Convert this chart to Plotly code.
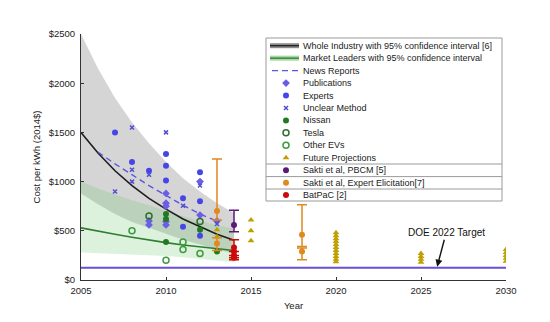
import plotly.graph_objects as go

# ---------------- data ----------------
band_years = [2005, 2006, 2007, 2008, 2009, 2010, 2011, 2012, 2013, 2014]
industry = [1500, 1290, 1110, 960, 830, 720, 620, 540, 465, 405]
industry_hi = [2500, 2150, 1850, 1600, 1390, 1200, 1035, 900, 780, 680]
industry_lo = [880, 770, 670, 590, 530, 470, 410, 360, 310, 270]
leaders = [530, 495, 465, 435, 405, 380, 355, 335, 318, 300]
leaders_hi = [1000, 930, 870, 810, 760, 700, 650, 600, 560, 520]
leaders_lo = [280, 273, 266, 259, 252, 245, 230, 215, 198, 180]

news_years = [2006, 2007, 2008, 2009, 2010, 2011, 2012, 2013]
news = [1300, 1180, 1070, 960, 860, 760, 670, 600]

pub_x = [2009, 2009, 2010, 2010, 2010, 2010, 2010, 2012, 2012, 2013]
pub_y = [600, 560, 880, 780, 750, 595, 560, 1000, 660, 600]
exp_x = [2007, 2008, 2009, 2010, 2010, 2010, 2011, 2011, 2012, 2012, 2012]
exp_y = [1500, 1200, 1110, 1280, 1160, 1010, 830, 540, 1095, 800, 450]
unc_x = [2007, 2008, 2008, 2008, 2009, 2010, 2011, 2012, 2013]
unc_y = [900, 1550, 1120, 1000, 1070, 1500, 755, 960, 570]

nissan_x = [2010, 2010, 2010, 2012, 2013]
nissan_y = [670, 620, 385, 510, 290]
tesla_x = [2009, 2012]
tesla_y = [650, 595]
other_x = [2008, 2010, 2011, 2011, 2012]
other_y = [500, 200, 385, 310, 270]

future_x = [2013, 2013,
            2015, 2015, 2015,
            2020, 2020, 2020, 2020, 2020, 2020, 2020, 2020, 2020, 2020, 2020,
            2025, 2025, 2025, 2025,
            2030, 2030, 2030, 2030, 2030]
future_y = [510, 440,
            610, 500, 400,
            480, 450, 420, 390, 360, 330, 300, 270, 240, 210, 185,
            270, 240, 210, 180,
            310, 280, 250, 220, 190]

elic_x = [2013, 2013, 2018, 2018]
elic_y = [700, 370, 460, 290]
elic_plus = [530, 60, 305, 35]
elic_minus = [90, 70, 120, 85]

pbcm_x = [2014]
pbcm_y = [560]
pbcm_plus = [150]
pbcm_minus = [70]

batpac_x = [2014, 2014, 2014, 2014]
batpac_y = [330, 290, 250, 225]
batpac_plus = [78, 0, 0, 0]
batpac_minus = [125, 0, 0, 0]

doe_years = [2005, 2030]
doe_target = [125, 125]

x_ticks = [2005, 2010, 2015, 2020, 2025, 2030]
y_ticks = [0, 500, 1000, 1500, 2000, 2500]
y_tick_text = ["$0", "$500", "$1000", "$1500", "$2000", "$2500"]

legend_labels = [
    "Whole Industry with 95% confidence interval [6]",
    "Market Leaders with 95% confidence interval",
    "News Reports",
    "Publications",
    "Experts",
    "Unclear Method",
    "Nissan",
    "Tesla",
    "Other EVs",
    "Future Projections",
    "Sakti et al, PBCM [5]",
    "Sakti et al, Expert Elicitation[7]",
    "BatPaC [2]",
]

# ---------------- styles ----------------
GRAY_FILL = "rgba(150,150,150,0.40)"
GREEN_FILL = "rgba(100,195,100,0.22)"
C_BLACK = "#1e1e1e"
C_GREEN = "#2f7d2f"
C_NEWS = "#5b55dd"
C_PUB = "#6a5ee6"
C_EXP = "#4646e8"
C_UNC = "#5050cc"
C_NISSAN = "#217a21"
C_TESLA = "#2e6e2e"
C_OTHER = "#3f9a3f"
C_FUT = "#bfa000"
C_PBCM = "#5c1a78"
C_ELIC = "#e0891f"
C_BAT = "#cc0a0a"
C_DOE = "#6a4fd6"

fig = go.Figure()

# confidence bands
fig.add_trace(go.Scatter(x=band_years, y=industry_lo, mode="lines", line=dict(width=0),
                         hoverinfo="skip", showlegend=False))
fig.add_trace(go.Scatter(x=band_years, y=industry_hi, mode="lines", line=dict(width=0),
                         fill="tonexty", fillcolor=GRAY_FILL, showlegend=False))
fig.add_trace(go.Scatter(x=band_years, y=leaders_lo, mode="lines", line=dict(width=0),
                         hoverinfo="skip", showlegend=False))
fig.add_trace(go.Scatter(x=band_years, y=leaders_hi, mode="lines", line=dict(width=0),
                         fill="tonexty", fillcolor=GREEN_FILL, showlegend=False))

# DOE target
fig.add_trace(go.Scatter(x=doe_years, y=doe_target, mode="lines",
                         line=dict(color=C_DOE, width=2), showlegend=False))

# fit lines
fig.add_trace(go.Scatter(x=band_years, y=industry, mode="lines",
                         line=dict(color=C_BLACK, width=1.6), showlegend=False))
fig.add_trace(go.Scatter(x=band_years, y=leaders, mode="lines",
                         line=dict(color=C_GREEN, width=1.6), showlegend=False))
fig.add_trace(go.Scatter(x=news_years, y=news, mode="lines",
                         line=dict(color=C_NEWS, width=1.4, dash="6px,4px"), showlegend=False))

# points
fig.add_trace(go.Scatter(x=pub_x, y=pub_y, mode="markers",
                         marker=dict(symbol="diamond", size=6, color=C_PUB), showlegend=False))
fig.add_trace(go.Scatter(x=exp_x, y=exp_y, mode="markers",
                         marker=dict(symbol="circle", size=6, color=C_EXP), showlegend=False))
fig.add_trace(go.Scatter(x=unc_x, y=unc_y, mode="markers",
                         marker=dict(symbol="x-thin", size=4, color=C_UNC,
                                     line=dict(color=C_UNC, width=1.5)), showlegend=False))
fig.add_trace(go.Scatter(x=nissan_x, y=nissan_y, mode="markers",
                         marker=dict(symbol="circle", size=6, color=C_NISSAN), showlegend=False))
fig.add_trace(go.Scatter(x=tesla_x, y=tesla_y, mode="markers",
                         marker=dict(symbol="circle-open", size=6, color=C_TESLA,
                                     line=dict(width=1.5)), showlegend=False))
fig.add_trace(go.Scatter(x=other_x, y=other_y, mode="markers",
                         marker=dict(symbol="circle-open", size=6, color=C_OTHER,
                                     line=dict(width=1.5)), showlegend=False))
fig.add_trace(go.Scatter(x=future_x, y=future_y, mode="markers",
                         marker=dict(symbol="triangle-up", size=6, color=C_FUT), showlegend=False))
fig.add_trace(go.Scatter(x=elic_x, y=elic_y, mode="markers",
                         marker=dict(symbol="circle", size=6, color=C_ELIC),
                         error_y=dict(type="data", array=elic_plus, arrayminus=elic_minus,
                                      color=C_ELIC, thickness=1.5, width=5),
                         showlegend=False))
fig.add_trace(go.Scatter(x=pbcm_x, y=pbcm_y, mode="markers",
                         marker=dict(symbol="circle", size=6, color=C_PBCM),
                         error_y=dict(type="data", array=pbcm_plus, arrayminus=pbcm_minus,
                                      color=C_PBCM, thickness=1.5, width=5),
                         showlegend=False))
fig.add_trace(go.Scatter(x=batpac_x, y=batpac_y, mode="markers",
                         marker=dict(symbol="circle", size=6, color=C_BAT),
                         error_y=dict(type="data", array=batpac_plus, arrayminus=batpac_minus,
                                      color=C_BAT, thickness=1.5, width=5),
                         showlegend=False))

# ---------------- legend drawn in an overlay pixel axis ----------------
row0 = 45.7
step = 12.45
rows = [row0 + i * step for i in range(len(legend_labels))]
sym_x = 286
line_x = [270, 299]

fig.add_trace(go.Scatter(x=line_x, y=[rows[0]] * 2, xaxis="x2", yaxis="y2", mode="lines",
                         line=dict(color="#8c8c8c", width=5), showlegend=False))
fig.add_trace(go.Scatter(x=line_x, y=[rows[0]] * 2, xaxis="x2", yaxis="y2", mode="lines",
                         line=dict(color=C_BLACK, width=1.3), showlegend=False))
fig.add_trace(go.Scatter(x=line_x, y=[rows[1]] * 2, xaxis="x2", yaxis="y2", mode="lines",
                         line=dict(color="#a6d8a6", width=5), showlegend=False))
fig.add_trace(go.Scatter(x=line_x, y=[rows[1]] * 2, xaxis="x2", yaxis="y2", mode="lines",
                         line=dict(color=C_GREEN, width=1.3), showlegend=False))
fig.add_trace(go.Scatter(x=[272, 299], y=[rows[2]] * 2, xaxis="x2", yaxis="y2", mode="lines",
                         line=dict(color=C_NEWS, width=1.4, dash="6px,4px"), showlegend=False))

marker_specs = [
    (3, dict(symbol="diamond", size=6, color=C_PUB)),
    (4, dict(symbol="circle", size=6, color=C_EXP)),
    (5, dict(symbol="x-thin", size=4, color=C_UNC, line=dict(color=C_UNC, width=1.5))),
    (6, dict(symbol="circle", size=6, color=C_NISSAN)),
    (7, dict(symbol="circle-open", size=6, color=C_TESLA, line=dict(width=1.5))),
    (8, dict(symbol="circle-open", size=6, color=C_OTHER, line=dict(width=1.5))),
    (9, dict(symbol="triangle-up", size=6, color=C_FUT)),
    (10, dict(symbol="circle", size=6, color=C_PBCM)),
    (11, dict(symbol="circle", size=6, color=C_ELIC)),
    (12, dict(symbol="circle", size=6, color=C_BAT)),
]
for idx, mk in marker_specs:
    fig.add_trace(go.Scatter(x=[sym_x], y=[rows[idx]], xaxis="x2", yaxis="y2", mode="markers",
                             marker=mk, showlegend=False))

annotations = []
for label, ry in zip(legend_labels, rows):
    annotations.append(dict(x=301, y=ry, xref="x2", yref="y2", text=label, showarrow=False,
                            xanchor="left", yanchor="middle",
                            font=dict(size=9, color="#222222")))

annotations.append(dict(x=2025.95, y=135, xref="x", yref="y", text="DOE 2022 Target",
                        showarrow=True, arrowhead=2, arrowsize=1, arrowwidth=1.4,
                        arrowcolor="#111111", ax=9, ay=-34,
                        font=dict(size=10, color="#111111")))

shapes = [
    dict(type="rect", xref="x2", yref="y2", x0=266, x1=502, y0=38, y1=201,
         line=dict(color="#9a9a9a", width=1), fillcolor="white", layer="below"),
]
for sep in [164, 176.6, 189]:
    shapes.append(dict(type="line", xref="x2", yref="y2", x0=266, x1=502, y0=sep, y1=sep,
                       line=dict(color="#9a9a9a", width=1), layer="below"))

fig.update_layout(
    width=550, height=322,
    margin=dict(l=81, r=44, t=34, b=42),
    paper_bgcolor="white", plot_bgcolor="white",
    font=dict(family="Liberation Sans, Arial, sans-serif", size=9.5, color="#222222"),
    showlegend=False,
    xaxis=dict(range=[2005, 2030], tickvals=x_ticks, ticks="inside", ticklen=3,
               tickcolor="#333333", showgrid=False, zeroline=False, showline=True,
               linecolor="#333333", linewidth=1, ticklabelstandoff=2,
               title=dict(text="Year", standoff=6, font=dict(size=9.5))),
    yaxis=dict(range=[0, 2500], tickvals=y_ticks, ticktext=y_tick_text, ticks="inside",
               ticklen=3, tickcolor="#333333", showgrid=False, zeroline=False, showline=True,
               linecolor="#333333", linewidth=1, ticklabelstandoff=3,
               title=dict(text="Cost per kWh (2014$)", standoff=6, font=dict(size=9.5))),
    xaxis2=dict(overlaying="x", range=[81, 506], visible=False, fixedrange=True),
    yaxis2=dict(overlaying="y", range=[280, 34], visible=False, fixedrange=True),
    annotations=annotations,
    shapes=shapes,
)

fig.write_html("out.html")
